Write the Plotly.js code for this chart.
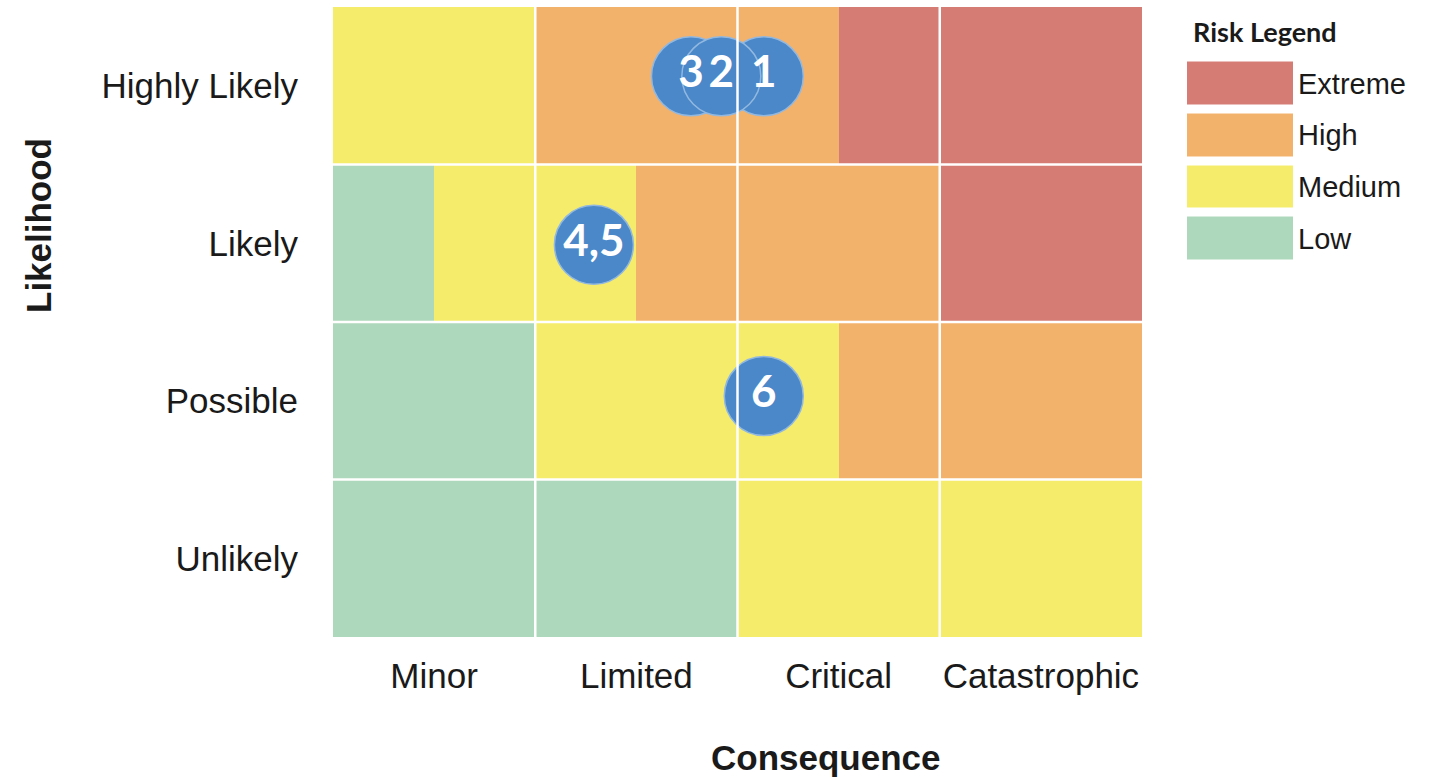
<!DOCTYPE html>
<html>
<head>
<meta charset="utf-8">
<script src="https://cdn.plot.ly/plotly-3.0.1.min.js"></script>
<style>html,body{margin:0;padding:0;background:#fff;}#chart{width:1430px;height:777px;}</style>
</head>
<body>
<div id="chart"></div>
<script>
// ---- data ----
const consequence = ["Minor", "Limited", "Critical", "Catastrophic"];
const likelihood = ["Unlikely", "Possible", "Likely", "Highly Likely"];
const riskLevels = ["Low", "Medium", "High", "Extreme"];
const riskColors = ["#aed8bb", "#f5ec6b", "#f3b26c", "#d57c74"];
// half-column positions (in consequence units) of the matrix cells
const halfCols = [0.25, 0.75, 1.25, 1.75, 2.25, 2.75, 3.25, 3.75];
// risk level index per half cell, rows bottom (Unlikely) to top (Highly Likely)
const rowUnlikely     = [0, 0, 0, 0, 1, 1, 1, 1];
const rowPossible     = [0, 0, 1, 1, 1, 2, 2, 2];
const rowLikely       = [0, 1, 1, 2, 2, 2, 3, 3];
const rowHighlyLikely = [1, 1, 2, 2, 2, 3, 3, 3];
// risk items (bubbles)
const itemLabels = ["3", "1", "2", "4,5", "6"];
const itemConsequence = [1.77, 2.13, 1.92, 1.29, 2.13];
const itemLikelihood = [3.56, 3.56, 3.56, 2.49, 1.53];

// ---- build ----
const rowCenters = likelihood.map((_, i) => i + 0.5);
const colCenters = consequence.map((_, i) => i + 0.5);
const scale = riskColors.map((c, i) => [i / (riskColors.length - 1), c]);

const W = 1430, H = 777;
const px = v => v / W, py = v => 1 - v / H;

const matrix = {
  type: "heatmap",
  x: halfCols,
  y: rowCenters,
  z: [rowUnlikely, rowPossible, rowLikely, rowHighlyLikely],
  zmin: 0, zmax: riskLevels.length - 1,
  colorscale: scale,
  showscale: false,
  hoverinfo: "skip",
  xaxis: "x", yaxis: "y"
};

const bubbles = {
  type: "scatter",
  mode: "markers+text",
  x: itemConsequence,
  y: itemLikelihood,
  text: itemLabels,
  textposition: "middle center",
  textfont: {family: "Lato, 'Open Sans', sans-serif", size: 44, color: "#ffffff", weight: "bold"},
  marker: {size: 79, color: "#4a88c9", line: {color: "#92b8e0", width: 1.5}},
  hoverinfo: "skip",
  cliponaxis: false,
  xaxis: "x", yaxis: "y"
};

const legendLevels = riskLevels.map((_, i) => [i]);
const legendSwatches = {
  type: "heatmap",
  x: [0],
  y: riskLevels,
  z: legendLevels,
  zmin: 0, zmax: riskLevels.length - 1,
  colorscale: scale,
  showscale: false,
  ygap: 9,
  hoverinfo: "skip",
  xaxis: "x2", yaxis: "y2"
};

const shapes = [];
for (let i = 1; i < consequence.length; i++) {
  shapes.push({type: "line", xref: "x", yref: "y", x0: i, x1: i, y0: 0, y1: likelihood.length,
    line: {color: "#ffffff", width: 2.5}, layer: "above"});
}
for (let j = 1; j < likelihood.length; j++) {
  shapes.push({type: "line", xref: "x", yref: "y", x0: 0, x1: consequence.length, y0: j, y1: j,
    line: {color: "#ffffff", width: 2.5}, layer: "above"});
}

const txt = "#1a1a1a";
const layout = {
  width: W, height: H,
  margin: {l: 0, r: 0, t: 0, b: 0},
  paper_bgcolor: "#ffffff",
  plot_bgcolor: "#ffffff",
  showlegend: false,
  font: {family: "'Liberation Sans', Arial, sans-serif", color: txt},
  xaxis: {
    domain: [px(333), px(1142)],
    range: [0, consequence.length],
    tickvals: colCenters, ticktext: consequence,
    ticks: "outside", ticklen: 8, tickcolor: "rgba(0,0,0,0)",
    tickfont: {size: 35, color: txt},
    showgrid: false, zeroline: false, showline: false, fixedrange: true
  },
  yaxis: {
    domain: [py(637), py(7)],
    range: [0, likelihood.length],
    tickvals: rowCenters, ticktext: likelihood,
    ticks: "outside", ticklen: 27, tickcolor: "rgba(0,0,0,0)",
    tickfont: {size: 35, color: txt},
    showgrid: false, zeroline: false, showline: false, fixedrange: true
  },
  xaxis2: {
    domain: [px(1187), px(1293)], anchor: "y2",
    showticklabels: false, showgrid: false, zeroline: false, ticks: "", fixedrange: true
  },
  yaxis2: {
    domain: [py(264.5), py(57.5)], anchor: "x2", side: "right",
    type: "category", categoryorder: "array", categoryarray: riskLevels,
    ticks: "", ticklabelstandoff: 4,
    tickfont: {size: 29, color: txt},
    showgrid: false, zeroline: false, showline: false, fixedrange: true
  },
  shapes: shapes,
  annotations: [
    {text: "<b>Risk Legend</b>", xref: "paper", yref: "paper", x: px(1191), y: py(32),
     xanchor: "left", yanchor: "middle", showarrow: false,
     font: {family: "Lato, 'Open Sans', sans-serif", size: 27, color: txt}},
    {text: "<b>Likelihood</b>", xref: "paper", yref: "paper", x: px(38), y: py(226),
     xanchor: "center", yanchor: "middle", textangle: -90, showarrow: false,
     font: {size: 35, color: txt}},
    {text: "<b>Consequence</b>", xref: "paper", yref: "paper", x: px(826), y: py(757),
     xanchor: "center", yanchor: "middle", showarrow: false,
     font: {size: 35, color: txt}}
  ]
};

Plotly.newPlot("chart", [matrix, legendSwatches, bubbles], layout, {staticPlot: true, displayModeBar: false});
</script>
</body>
</html>
